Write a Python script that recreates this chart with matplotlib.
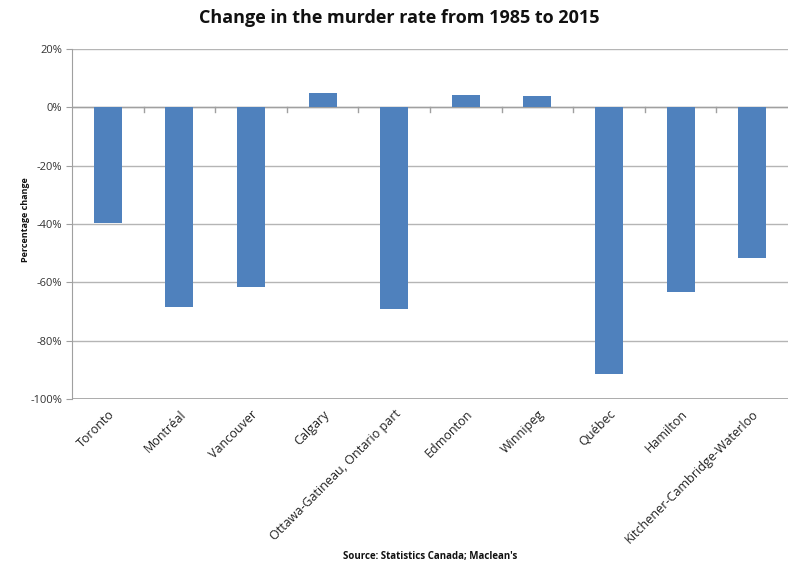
import matplotlib
matplotlib.use("Agg")
import matplotlib.pyplot as plt
from matplotlib.ticker import FuncFormatter, MultipleLocator
import numpy as np

cities = ["Toronto", "Montréal", "Vancouver", "Calgary", "Ottawa-Gatineau, Ontario part",
          "Edmonton", "Winnipeg", "Québec", "Hamilton", "Kitchener-Cambridge-Waterloo"]
changes = [-39.8, -68.4, -61.4, 4.9, -69.1, 4.0, 3.75, -91.4, -63.3, -51.6]

plt.rcParams['font.family'] = ['Open Sans', 'DejaVu Sans']

fig = plt.figure(figsize=(7.97, 5.75), dpi=100)
ax = fig.add_axes([0.0903, 0.3056, 0.8984, 0.6097])

x = np.arange(len(cities))
ax.bar(x, changes, width=0.39, color="#4F81BD", zorder=3)

ax.set_xlim(-0.5, len(cities) - 0.5)
ax.set_ylim(-100, 20)
ax.yaxis.set_major_locator(MultipleLocator(20))
ax.yaxis.set_major_formatter(FuncFormatter(lambda v, p: f"{int(round(v))}%"))
ax.grid(axis='y', color="#b5b5b5", linewidth=1.0, zorder=0)

for s in ['top', 'right', 'bottom']:
    ax.spines[s].set_visible(False)
ax.spines['left'].set_color("#a0a0a0")
ax.axhline(0, color="#a0a0a0", linewidth=1.0, zorder=2)
ax.axhline(-100, color="#a0a0a0", linewidth=1.2, zorder=2)

ax.tick_params(axis='y', length=4, color="#a0a0a0", labelsize=8, labelcolor="#333333", pad=3)
ax.set_xticks(x)
ax.set_xticklabels(cities, rotation=45, ha='right', rotation_mode='anchor', fontsize=9, color="#222222")
ax.tick_params(axis='x', length=0, pad=6)

# category boundary ticks on the zero line
for b in np.arange(-0.5, len(cities) + 0.5, 1.0)[1:-1]:
    ax.plot([b, b], [0, -1.6], color="#a0a0a0", linewidth=1.0, zorder=2, clip_on=False)

fig.text(25 / 797, 1 - 220 / 575, "Percentage change", rotation=90, ha='center', va='center',
         fontsize=6.5, fontweight='bold', color="#111111")

fig.text(0.501, 0.968, "Change in the murder rate from 1985 to 2015", ha='center', va='center',
         fontsize=13, fontweight='bold', color="#111111")
fig.text(430 / 797, 1 - 557 / 575, "Source: Statistics Canada; Maclean's", ha='center', va='center',
         fontsize=7, fontweight='bold', color="#111111")

fig.savefig("out.png", dpi=100)
